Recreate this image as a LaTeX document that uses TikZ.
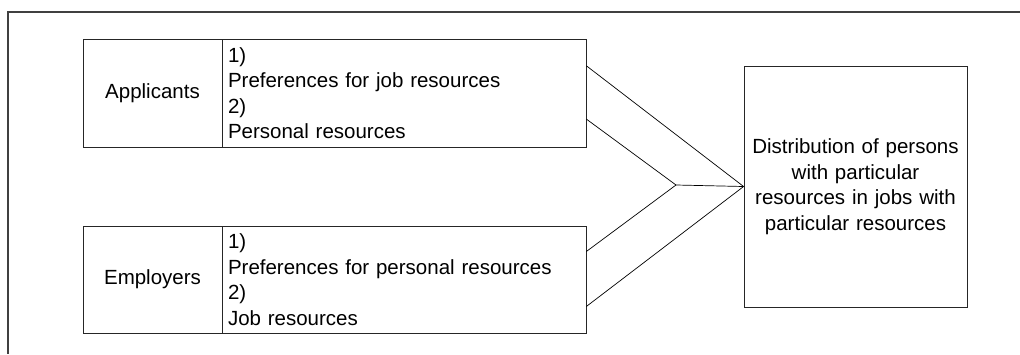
\documentclass[tikz,border=0pt]{standalone}
\usepackage{fontspec}
\setmainfont{Liberation Sans}
\usetikzlibrary{calc}
\begin{document}
\begin{tikzpicture}[x=1pt,y=-1pt,
  txt/.style={font=\fontsize{20.5}{25.5}\selectfont},
  cell/.style={draw=black!85, line width=0.8pt, inner sep=0pt, txt},
  conn/.style={draw=black, line width=0.7pt},
  frame/.style={draw=black!75, line width=1.2pt}]
\useasboundingbox (0,0) rectangle (1020,354);
% frame
\coordinate (f0) at (1020,12);
\coordinate (f1) at (8,12);
\coordinate (f2) at (8,354);
\draw[frame] (f0) -- (f1) -- (f2);
% applicants
\node[cell, minimum width=139pt, minimum height=108pt] (app) at (152.5,93) {Applicants};
\node[cell, minimum width=364pt, minimum height=108pt, text width=352pt, align=left] (appres) at (404,93)
  {1)\\Preferences for job resources\\2)\\Personal resources};
% employers
\node[cell, minimum width=139pt, minimum height=107pt] (emp) at (152.5,279.5) {Employers};
\node[cell, minimum width=364pt, minimum height=107pt, text width=352pt, align=left] (empres) at (404,279.5)
  {1)\\Preferences for personal resources\\2)\\Job resources};
% distribution
\node[cell, minimum width=223pt, minimum height=241pt, text width=215pt, align=center] (dist) at (855.5,186.5)
  {Distribution of persons\\with particular\\resources in jobs with\\particular resources};
% connectors
\coordinate (J) at (676,185);
\draw[conn] ($(appres.north east)!0.25!(appres.south east)$) -- (dist.west);
\draw[conn] ($(appres.north east)!0.74!(appres.south east)$) -- (J);
\draw[conn] ($(empres.north east)!0.24!(empres.south east)$) -- (J);
\draw[conn] ($(empres.north east)!0.75!(empres.south east)$) -- (dist.west);
\draw[conn] (J) -- (dist.west);
\end{tikzpicture}
\end{document}
